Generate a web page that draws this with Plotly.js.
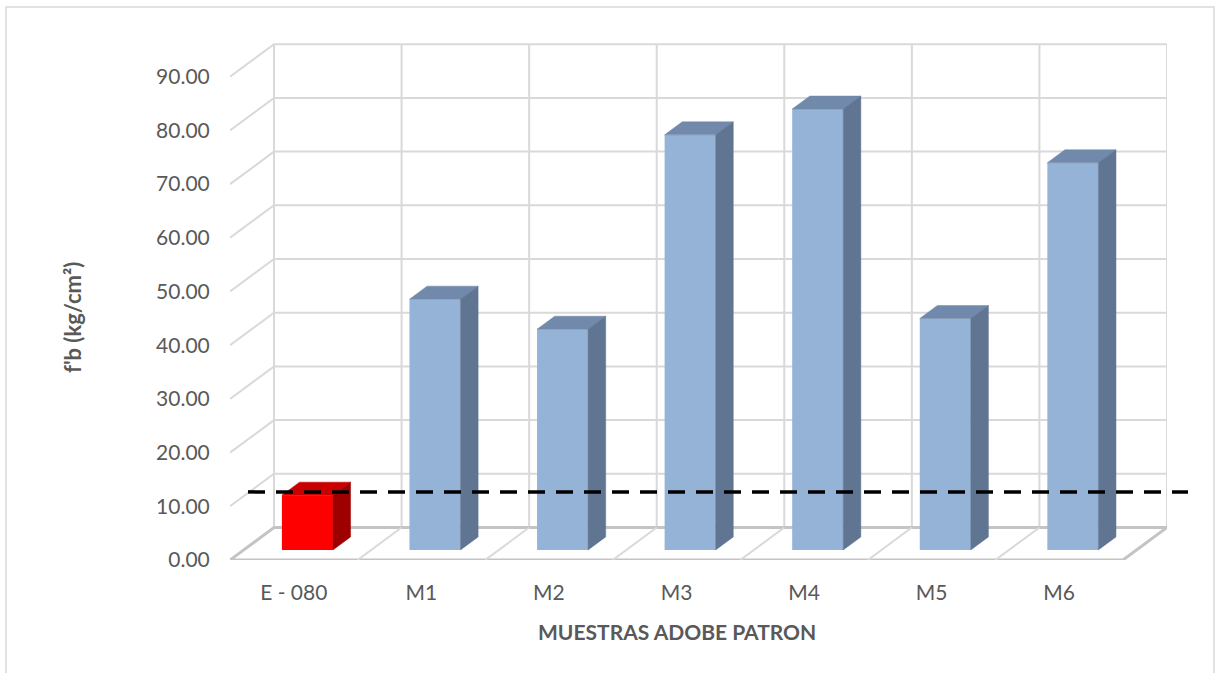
<!DOCTYPE html>
<html><head><meta charset="utf-8">
<script src="https://cdn.plot.ly/plotly-3.0.1.min.js"></script>
<style>html,body{margin:0;padding:0;background:#fff}#chart{width:1216px;height:673px}</style>
</head><body><div id="chart"></div>
<script>
// ---- data ----
const categories = ['E - 080', 'M1', 'M2', 'M3', 'M4', 'M5', 'M6'];
const strength = [10.2, 46.7, 41.1, 77.3, 82.1, 43.1, 72.1];
const limitValue = 10.2;
const yTicks = [0, 10, 20, 30, 40, 50, 60, 70, 80, 90];
const yTickText = yTicks.map(v => v.toFixed(2));
const yTitle = "f'b (kg/cm²)";
const xTitle = 'MUESTRAS ADOBE PATRON';

// ---- pseudo-3D geometry (axis units) ----
const DX = 0.345, DY = 6.05;     // full depth of the floor
const F0 = 0.31, F1 = 0.71;      // bar depth span (fraction of floor depth)
const W = 0.4;                   // bar width
const n = categories.length;
const xMin = -0.5, xMax = n - 0.5 + DX;
const yTop = yTicks[yTicks.length - 1];

const frontColors = strength.map((v, i) => i === 0 ? '#FF0000' : '#95B3D7');
const topColors = ['#C80000', '#7189AA'];
const sideColors = ['#9E0000', '#5F7592'];

// gridlines (side wall diagonals + back wall horizontals) and back wall verticals
const shapes = [];
let gp = '';
yTicks.forEach(v => {
  if (v === 0) return;
  gp += `M ${xMin},${v} L ${xMin + DX},${v + DY} L ${xMax},${v + DY} `;
});
for (let k = 0; k <= n; k++) {
  const x = k - 0.5 + DX;
  gp += `M ${x},${DY} L ${x},${yTop + DY} `;
}
shapes.push({type: 'path', xref: 'x', yref: 'y', layer: 'below', path: gp,
  line: {color: '#D9D9D9', width: 2}});
// floor
shapes.push({type: 'path', xref: 'x', yref: 'y', layer: 'below',
  path: `M ${xMin},0 L ${n - 0.5},0 L ${xMax},${DY} L ${xMin + DX},${DY} Z`,
  fillcolor: '#FFFFFF', line: {color: '#C4C4C4', width: 3}});
// floor category separators
let fp = '';
for (let k = 1; k < n; k++) {
  fp += `M ${k - 0.5},0 L ${k - 0.5 + DX},${DY} `;
}
shapes.push({type: 'path', xref: 'x', yref: 'y', layer: 'below', path: fp,
  line: {color: '#D9D9D9', width: 2}});
// dashed reference line (E.080 limit)
const plotL = 230, plotW = 937;
shapes.push({type: 'line', xref: 'paper', yref: 'y', layer: 'above',
  x0: (248 - plotL) / plotW, x1: (1188 - plotL) / plotW,
  y0: limitValue + 0.41 * DY, y1: limitValue + 0.41 * DY,
  line: {color: '#000000', width: 3.5, dash: '17px,11px'}});
// chart border
shapes.push({type: 'rect', xref: 'paper', yref: 'paper', layer: 'below',
  x0: (6 - plotL) / plotW, x1: (1214 - plotL) / plotW, y0: -0.3, y1: (560 - 7) / 520,
  line: {color: '#D9D9D9', width: 1.5}, fillcolor: 'rgba(0,0,0,0)'});

// front faces as a real bar trace
const traces = [{
  type: 'bar', x: strength.map((v, i) => i + F0 * DX), y: strength,
  base: strength.map(() => F0 * DY), width: W,
  marker: {color: frontColors, line: {width: 0}}, hoverinfo: 'skip', showlegend: false
}];

// top and side faces
function faces(indices, kind) {
  const xs = [], ys = [];
  const dx = (F1 - F0) * DX, dy = (F1 - F0) * DY;
  indices.forEach(i => {
    const xl = i - W / 2 + F0 * DX, xr = i + W / 2 + F0 * DX;
    const b = F0 * DY, t = b + strength[i];
    if (kind === 'top') {
      xs.push(xl, xr, xr + dx, xl + dx, xl, null);
      ys.push(t, t, t + dy, t + dy, t, null);
    } else {
      xs.push(xr, xr, xr + dx, xr + dx, xr, null);
      ys.push(b, t, t + dy, b + dy, b, null);
    }
  });
  return {xs, ys};
}
const groups = [[0], strength.map((v, i) => i).slice(1)];
groups.forEach((g, gi) => {
  ['top', 'side'].forEach(kind => {
    const f = faces(g, kind);
    const col = kind === 'top' ? topColors[gi] : sideColors[gi];
    traces.push({type: 'scatter', mode: 'lines', x: f.xs, y: f.ys, fill: 'toself',
      fillcolor: col, line: {color: col, width: 0.5}, hoverinfo: 'skip', showlegend: false});
  });
});

const font = 'Lato, "Open Sans", sans-serif';
const layout = {
  width: 1216, height: 673,
  margin: {l: 230, r: 49, t: 40, b: 113},
  paper_bgcolor: '#FFFFFF', plot_bgcolor: 'rgba(0,0,0,0)',
  showlegend: false,
  font: {family: font, color: '#595959', size: 21},
  xaxis: {range: [xMin, xMax], tickvals: categories.map((c, i) => i), ticktext: categories,
    showgrid: false, zeroline: false, showline: false, ticks: 'outside', ticklen: 14,
    tickcolor: 'rgba(0,0,0,0)', tickfont: {size: 21, color: '#595959', family: font}, fixedrange: true},
  yaxis: {range: [0, 520 / 5.37], tickvals: yTicks, ticktext: yTickText,
    showgrid: false, zeroline: false, showline: false, ticks: 'outside', ticklen: 15,
    tickcolor: 'rgba(0,0,0,0)', tickfont: {size: 21, color: '#595959', family: font}, fixedrange: true},
  shapes: shapes,
  annotations: [
    {text: xTitle, xref: 'paper', yref: 'paper', x: (677 - plotL) / plotW, y: (560 - 631) / 520,
      xanchor: 'center', yanchor: 'middle', showarrow: false,
      font: {family: font, size: 21, color: '#595959', weight: 'bold'}},
    {text: yTitle, xref: 'paper', yref: 'paper', x: (72 - plotL) / plotW, y: (560 - 318) / 520,
      xanchor: 'center', yanchor: 'middle', showarrow: false, textangle: -90,
      font: {family: font, size: 22, color: '#595959', weight: 'bold'}}
  ]
};
Plotly.newPlot('chart', traces, layout, {displayModeBar: false, staticPlot: true});
</script>
</body></html>
